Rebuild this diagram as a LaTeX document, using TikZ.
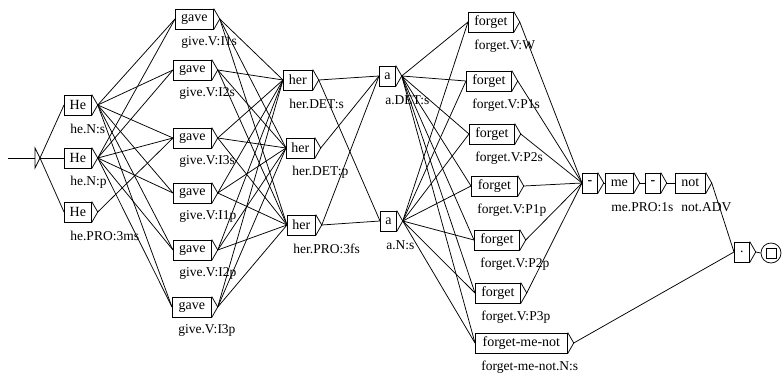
\documentclass[tikz,border=0pt]{standalone}
\usepackage{fontspec}
\setmainfont{Liberation Serif}
\begin{document}
\begin{tikzpicture}[x=1pt,y=-1pt,line width=0.75pt,
  ubox/.style={draw, rectangle, anchor=west, minimum height=20pt, inner sep=0pt, font=\fontsize{14}{16}\selectfont},
  lab/.style={anchor=west, inner sep=0pt, font=\fontsize{13.5}{15}\selectfont},
  conn/.style={draw, line width=0.75pt}]
\useasboundingbox (0,0) rectangle (782,374);
% initial state
\coordinate (start) at (8,158);
\coordinate (ini) at (35,158);
\draw (start) -- (ini);
\draw (ini) ++(0,-10) -- ++(5,10) coordinate (ini-o) -- ++(-5,10) -- cycle;
% boxes
\node[ubox, minimum width=27pt] (he1) at (64,105) {He};
\node[ubox, minimum width=27pt] (he2) at (64,158) {He};
\node[ubox, minimum width=27pt] (he3) at (64,212) {He};
\node[ubox, minimum width=38pt] (gv1) at (175,19) {gave};
\node[ubox, minimum width=38pt] (gv2) at (173,70) {gave};
\node[ubox, minimum width=38pt] (gv3) at (173,138) {gave};
\node[ubox, minimum width=38pt] (gv4) at (173,193) {gave};
\node[ubox, minimum width=38pt] (gv5) at (173,250) {gave};
\node[ubox, minimum width=39pt] (gv6) at (172,307) {gave};
\node[ubox, minimum width=29pt] (hr1) at (283,80) {her};
\node[ubox, minimum width=28pt] (hr2) at (286,148) {her};
\node[ubox, minimum width=28pt] (hr3) at (287,225) {her};
\node[ubox, minimum width=16pt] (a1) at (379,76) {a};
\node[ubox, minimum width=16pt] (a2) at (380,221) {a};
\node[ubox, minimum width=45pt] (f1) at (468,22) {forget};
\node[ubox, minimum width=45pt] (f2) at (466,81) {forget};
\node[ubox, minimum width=45pt] (f3) at (469,134) {forget};
\node[ubox, minimum width=46pt] (f4) at (471,186) {forget};
\node[ubox, minimum width=45pt] (f5) at (474,240) {forget};
\node[ubox, minimum width=45pt] (f6) at (475,293) {forget};
\node[ubox, minimum width=92pt] (fmn) at (475,343) {forget-me-not};
\node[ubox, minimum width=15pt] (d1) at (582,183) {\textbf{-}};
\node[ubox, minimum width=28pt] (me) at (605,183) {me};
\node[ubox, minimum width=15pt] (d2) at (645,183) {\textbf{-}};
\node[ubox, minimum width=30pt] (nt) at (675,183) {not};
\node[ubox, minimum width=15pt] (dot) at (734,252) {.};
% final state
\node[draw, circle, minimum size=20pt, inner sep=0pt] (fin) at (771,253) {};
\node[draw, rectangle, minimum size=10pt, inner sep=0pt] (finsq) at (fin.center) {};
% labels
\foreach \n/\t in {he1/he.N:s, he2/he.N:p, he3/he.PRO:3ms,
  gv1/give.V:I1s, gv2/give.V:I2s, gv3/give.V:I3s, gv4/give.V:I1p, gv5/give.V:I2p, gv6/give.V:I3p,
  hr1/her.DET:s, hr2/her.DET:p, hr3/her.PRO:3fs, a1/a.DET:s, a2/a.N:s,
  f1/forget.V:W, f2/forget.V:P1s, f3/forget.V:P2s, f4/forget.V:P1p, f5/forget.V:P2p, f6/forget.V:P3p,
  fmn/forget-me-not.N:s, me/me.PRO:1s, nt/not.ADV}
  \node[lab] (\n-l) at ([xshift=6pt,yshift=-13.5pt]\n.south west) {\t};
% output triangles
\foreach \n in {he1,he2,he3,gv1,gv2,gv3,gv4,gv5,gv6,hr1,hr2,hr3,a1,a2,f1,f2,f3,f4,f5,f6,fmn,d1,me,d2,nt,dot}
  \draw (\n.north east) -- ([xshift=6pt]\n.east) coordinate (\n-o) -- (\n.south east);
% transitions
\foreach \s/\t in {ini/he1, ini/he2, ini/he3,
  he1/gv1, he1/gv2, he1/gv3, he1/gv4, he1/gv5, he1/gv6,
  he2/gv1, he2/gv2, he2/gv3, he2/gv4, he2/gv5, he2/gv6,
  he3/gv3,
  hr1/a1, hr1/a2, hr2/a1, hr3/a1, hr3/a2,
  f1/d1, f2/d1, f3/d1, f4/d1, f5/d1, f6/d1,
  d1/me, me/d2, d2/nt, nt/dot, fmn/dot, dot/fin}
  \draw[conn] (\s-o) -- (\t.west);
\foreach \s in {gv1,gv2,gv3,gv4,gv5,gv6}
  \foreach \t in {hr1,hr2,hr3}
    \draw[conn] (\s-o) -- (\t.west);
\foreach \s in {a1,a2}
  \foreach \t in {f1,f2,f3,f4,f5,f6,fmn}
    \draw[conn] (\s-o) -- (\t.west);
\end{tikzpicture}
\end{document}
